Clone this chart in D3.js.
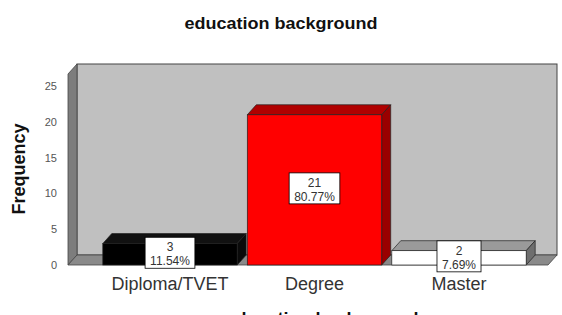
<!DOCTYPE html>
<html>
<head>
<meta charset="utf-8">
<script src="https://cdn.jsdelivr.net/npm/d3@7"></script>
<style>
  body { margin: 0; background: #fff; }
  svg { display: block; font-family: "Liberation Sans", Arial, sans-serif; }
</style>
</head>
<body>
<div id="chart"></div>
<script>
var categories = ["Diploma/TVET", "Degree", "Master"];
var counts = [3, 21, 2];
var percentLabels = ["11.54%", "80.77%", "7.69%"];
var yTicks = [0, 5, 10, 15, 20, 25];

var faceColors = [
  {front: "#000000", top: "#111111", side: "#0a0a0a"},
  {front: "#ff0000", top: "#b00000", side: "#9a0000"},
  {front: "#ffffff", top: "#9a9a9a", side: "#6e6e6e"}
];

var width = 562, height = 315;
var depthX = 9, depthY = -10; // 3d offset of the back plane
var left = 68, right = 548, yMax = 26.7;

var svg = d3.select("#chart").append("svg")
    .attr("width", width)
    .attr("height", height);

var x = d3.scaleBand()
    .domain(categories)
    .range([97.75, 531.25])
    .paddingInner(0.07)
    .paddingOuter(0.035);

var y = d3.scaleLinear()
    .domain([0, yMax])
    .range([265, 74]);

function pts(a) { return a.map(function(p) { return p.join(","); }).join(" "); }

// walls + floor
svg.append("rect")
    .attr("x", left + depthX)
    .attr("y", y(yMax) + depthY)
    .attr("width", right - left)
    .attr("height", y(0) - y(yMax))
    .attr("fill", "#c0c0c0")
    .attr("stroke", "#444")
    .attr("stroke-width", 1);

svg.append("polygon")
    .attr("points", pts([[left, y(0)], [left + depthX, y(0) + depthY], [left + depthX, y(yMax) + depthY], [left, y(yMax)]]))
    .attr("fill", "#7d7d7d")
    .attr("stroke", "#444")
    .attr("stroke-width", 0.8);

svg.append("polygon")
    .attr("points", pts([[left, y(0)], [left + depthX, y(0) + depthY], [right + depthX, y(0) + depthY], [right, y(0)]]))
    .attr("fill", "#8a8a8a")
    .attr("stroke", "#444")
    .attr("stroke-width", 0.8);

// y axis labels
var yAxis = d3.axisLeft(y).tickValues(yTicks).tickSize(0).tickPadding(3);
var ga = svg.append("g")
    .attr("transform", "translate(" + (left - 8) + ",0)")
    .call(yAxis);
ga.select(".domain").remove();
ga.selectAll("text")
    .style("font-size", "11px")
    .style("font-family", "Liberation Sans, Arial, sans-serif")
    .attr("fill", "#555");

// bars
var bw = x.bandwidth();
var bars = svg.selectAll(".bar")
  .data(counts)
  .enter().append("g")
    .attr("class", "bar");

bars.append("polygon") //top face
    .attr("points", function(d, i) {
      var x0 = x(categories[i]), yt = y(d);
      return pts([[x0, yt], [x0 + depthX, yt + depthY], [x0 + bw + depthX, yt + depthY], [x0 + bw, yt]]);
    })
    .attr("fill", function(d, i) { return faceColors[i].top; })
    .attr("stroke", "#222").attr("stroke-width", 0.7);

bars.append("polygon") //side face
    .attr("points", function(d, i) {
      var x1 = x(categories[i]) + bw, yt = y(d), yb = y(0);
      return pts([[x1, yt], [x1 + depthX, yt + depthY], [x1 + depthX, yb + depthY], [x1, yb]]);
    })
    .attr("fill", function(d, i) { return faceColors[i].side; })
    .attr("stroke", "#222").attr("stroke-width", 0.7);

bars.append("rect") //front face
    .attr("x", function(d, i) { return x(categories[i]); })
    .attr("y", function(d) { return y(d); })
    .attr("width", bw)
    .attr("height", function(d) { return y(0) - y(d); })
    .attr("fill", function(d, i) { return faceColors[i].front; })
    .attr("stroke", "#222").attr("stroke-width", 0.7);

// value boxes
bars.each(function(d, i) {
  var g = d3.select(this),
      cx = x(categories[i]) + bw / 2,
      cy = (y(d) + y(0)) / 2 - 1;
  var box = g.append("rect").attr("fill", "#fff").attr("stroke", "#000").attr("stroke-width", 0.8);
  var t1 = g.append("text").attr("x", cx).attr("y", cy - 2)
      .attr("text-anchor", "middle").style("font-size", "12px").attr("fill", "#333").text(d);
  var t2 = g.append("text").attr("x", cx).attr("y", cy + 12)
      .attr("text-anchor", "middle").style("font-size", "12px").attr("fill", "#333").text(percentLabels[i]);
  var w = Math.max(t1.node().getComputedTextLength(), t2.node().getComputedTextLength()) + 10;
  box.attr("x", cx - w / 2).attr("y", cy - 16).attr("width", w).attr("height", 31);
});

// category labels
svg.selectAll(".cat")
  .data(categories)
  .enter().append("text")
    .attr("class", "cat")
    .attr("x", function(d) { return x(d) + bw / 2; })
    .attr("y", 290)
    .attr("text-anchor", "middle")
    .style("font-size", "18px")
    .attr("fill", "#333")
    .text(function(d) { return d; });

// titles
svg.append("text")
    .attr("x", 281).attr("y", 29)
    .attr("text-anchor", "middle")
    .style("font-size", "16px").style("font-weight", "bold")
    .attr("textLength", 193).attr("lengthAdjust", "spacingAndGlyphs")
    .attr("fill", "#111")
    .text("education background");

svg.append("text")
    .attr("transform", "translate(25,169) rotate(-90)")
    .attr("text-anchor", "middle")
    .style("font-size", "18px").style("font-weight", "bold")
    .attr("fill", "#111")
    .text("Frequency");

// x axis title, cut by the bottom edge like in the source image
svg.append("text")
    .attr("x", 322).attr("y", 325)
    .attr("text-anchor", "middle")
    .style("font-size", "18px").style("font-weight", "bold")
    .attr("fill", "#111")
    .text("education background");
</script>
</body>
</html>
